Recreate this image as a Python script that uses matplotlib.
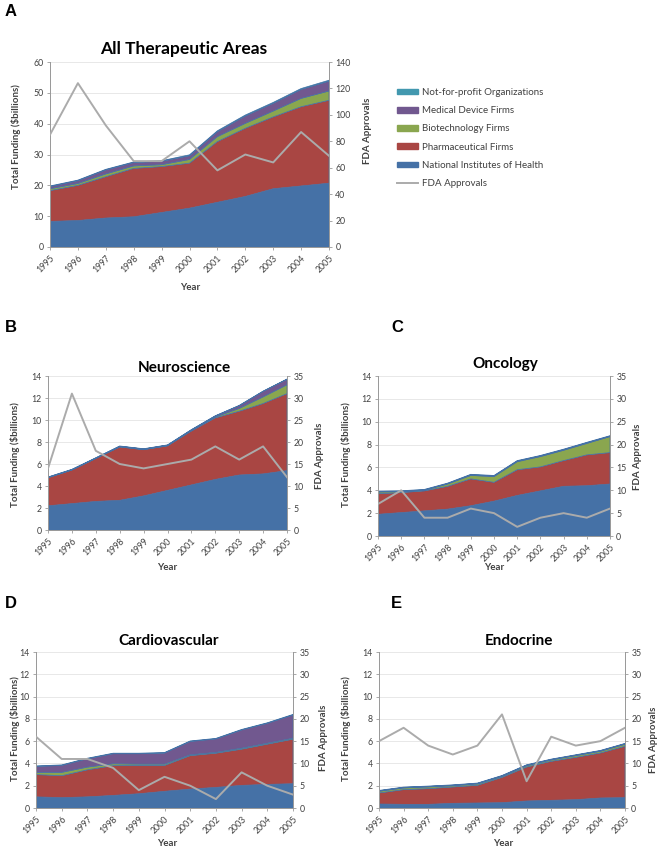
import matplotlib
matplotlib.use('Agg')
import matplotlib.pyplot as plt
from matplotlib.patches import Patch
from matplotlib.lines import Line2D

W, H = 661, 850

YEARS = list(range(1995, 2006))

SERIES = [
    'National Institutes of Health',
    'Pharmaceutical Firms',
    'Biotechnology Firms',
    'Medical Device Firms',
    'Not-for-profit Organizations',
]
COLORS = ['#4571A6', '#A94643', '#8AA64F', '#71588F', '#4298AF']
FDA_COLOR = '#ABABAB'

# funding per source, $billions (layer thickness, stacked NIH -> not-for-profit)
ALL_NIH = [8.3, 8.6, 9.4, 9.8, 11.2, 12.6, 14.5, 16.4, 18.9, 19.8, 20.7]
ALL_PHARMA = [10.0, 11.4, 13.4, 15.7, 14.9, 14.6, 19.7, 22.1, 23.3, 25.7, 26.9]
ALL_BIOTECH = [0.6, 0.6, 0.9, 0.8, 0.6, 1.2, 1.6, 1.6, 1.9, 2.7, 3.0]
ALL_DEVICE = [0.7, 0.9, 1.3, 1.1, 1.1, 1.2, 1.6, 2.4, 2.5, 2.9, 3.2]
ALL_NFP = [0.2, 0.2, 0.2, 0.2, 0.2, 0.3, 0.3, 0.3, 0.3, 0.3, 0.3]
ALL_FDA = [85, 124, 92, 65, 65, 80, 58, 70, 64, 87, 69]

NEURO_NIH = [2.2, 2.4, 2.6, 2.7, 3.1, 3.6, 4.1, 4.6, 5.0, 5.1, 5.4]
NEURO_PHARMA = [2.55, 3.05, 3.9, 4.85, 4.2, 4.05, 4.9, 5.6, 5.8, 6.4, 7.0]
NEURO_BIOTECH = [0.02, 0.02, 0.02, 0.03, 0.03, 0.03, 0.05, 0.08, 0.25, 0.6, 0.8]
NEURO_DEVICE = [0.02, 0.02, 0.02, 0.03, 0.03, 0.03, 0.05, 0.08, 0.25, 0.5, 0.5]
NEURO_NFP = [0.03, 0.03, 0.03, 0.03, 0.03, 0.03, 0.03, 0.03, 0.03, 0.03, 0.03]
NEURO_FDA = [14, 31, 18, 15, 14, 15, 16, 19, 16, 19, 12]

ONC_NIH = [1.9, 2.05, 2.2, 2.35, 2.65, 3.05, 3.55, 3.95, 4.35, 4.4, 4.55]
ONC_PHARMA = [1.8, 1.75, 1.75, 2.0, 2.35, 1.65, 2.25, 2.1, 2.25, 2.7, 2.75]
ONC_BIOTECH = [0.15, 0.08, 0.05, 0.2, 0.3, 0.5, 0.7, 0.9, 0.9, 1.0, 1.4]
ONC_DEVICE = [0.03, 0.03, 0.03, 0.03, 0.05, 0.05, 0.05, 0.05, 0.05, 0.05, 0.03]
ONC_NFP = [0.05, 0.05, 0.05, 0.05, 0.05, 0.05, 0.05, 0.05, 0.05, 0.05, 0.05]
ONC_FDA = [7, 10, 4, 4, 6, 5, 2, 4, 5, 4, 6]

CARDIO_NIH = [1.0, 0.93, 1.0, 1.13, 1.28, 1.5, 1.7, 1.85, 2.03, 2.12, 2.18]
CARDIO_PHARMA = [2.0, 1.97, 2.43, 2.67, 2.54, 2.32, 3.0, 3.07, 3.25, 3.61, 4.0]
CARDIO_BIOTECH = [0.2, 0.3, 0.24, 0.17, 0.12, 0.12, 0.08, 0.08, 0.09, 0.09, 0.09]
CARDIO_DEVICE = [0.53, 0.62, 0.75, 0.9, 0.93, 0.99, 1.19, 1.2, 1.63, 1.78, 2.08]
CARDIO_NFP = [0.05, 0.05, 0.05, 0.05, 0.05, 0.05, 0.05, 0.05, 0.05, 0.05, 0.05]
CARDIO_FDA = [16, 11, 11, 9, 4, 7, 5, 2, 8, 5, 3]

ENDO_NIH = [0.36, 0.33, 0.33, 0.42, 0.45, 0.48, 0.63, 0.69, 0.75, 0.9, 0.93]
ENDO_PHARMA = [0.99, 1.32, 1.41, 1.47, 1.59, 2.27, 3.05, 3.5, 3.8, 4.04, 4.61]
ENDO_BIOTECH = [0.15, 0.15, 0.15, 0.11, 0.12, 0.09, 0.12, 0.12, 0.15, 0.15, 0.18]
ENDO_DEVICE = [0.04, 0.04, 0.04, 0.04, 0.04, 0.04, 0.04, 0.04, 0.04, 0.04, 0.04]
ENDO_NFP = [0.04, 0.04, 0.04, 0.04, 0.04, 0.04, 0.04, 0.04, 0.04, 0.04, 0.04]
ENDO_FDA = [15, 18, 14, 12, 14, 21, 6, 16, 14, 15, 18]

plt.rcParams['font.family'] = ['Lato', 'DejaVu Sans']

TEXT = '#404040'
SPINE = '#9A9A9A'


def fx(x):
    return x / W


def fy(y):
    return 1 - y / H


# pixel positions of each panel's pieces
PANELS = [
    dict(letter='A', lpos=(11, 12), title='All Therapeutic Areas', tpos=(184, 49), tsize=12.5,
         layers=[ALL_NIH, ALL_PHARMA, ALL_BIOTECH, ALL_DEVICE, ALL_NFP], fda=ALL_FDA,
         box=(50, 62, 329, 247), ymax=60, ystep=10, y2max=140, y2step=20,
         ylpos=(16, 137), y2lpos=(367, 131), xlpos=(190, 288)),
    dict(letter='B', lpos=(11, 327), title='Neuroscience', tpos=(184, 368), tsize=11,
         layers=[NEURO_NIH, NEURO_PHARMA, NEURO_BIOTECH, NEURO_DEVICE, NEURO_NFP], fda=NEURO_FDA,
         box=(48, 376, 287, 530), ymax=14, ystep=2, y2max=35, y2step=5,
         ylpos=(15, 455), y2lpos=(319, 456), xlpos=(167, 567)),
    dict(letter='C', lpos=(397, 328), title='Oncology', tpos=(505, 364), tsize=11,
         layers=[ONC_NIH, ONC_PHARMA, ONC_BIOTECH, ONC_DEVICE, ONC_NFP], fda=ONC_FDA,
         box=(378, 376, 610, 536), ymax=14, ystep=2, y2max=35, y2step=5,
         ylpos=(346, 455), y2lpos=(638, 457), xlpos=(494, 568)),
    dict(letter='D', lpos=(11, 603), title='Cardiovascular', tpos=(169, 641), tsize=11,
         layers=[CARDIO_NIH, CARDIO_PHARMA, CARDIO_BIOTECH, CARDIO_DEVICE, CARDIO_NFP], fda=CARDIO_FDA,
         box=(36, 652, 293, 808), ymax=14, ystep=2, y2max=35, y2step=5,
         ylpos=(15, 729), y2lpos=(323, 738), xlpos=(167, 843)),
    dict(letter='E', lpos=(396, 604), title='Endocrine', tpos=(519, 641), tsize=11,
         layers=[ENDO_NIH, ENDO_PHARMA, ENDO_BIOTECH, ENDO_DEVICE, ENDO_NFP], fda=ENDO_FDA,
         box=(379, 652, 625, 808), ymax=14, ystep=2, y2max=35, y2step=5,
         ylpos=(346, 729), y2lpos=(653, 740), xlpos=(503, 843)),
]

fig = plt.figure(figsize=(W / 100, H / 100), dpi=100)

for p in PANELS:
    x0, y0, x1, y1 = p['box']
    ax = fig.add_axes([fx(x0), fy(y1), (x1 - x0) / W, (y1 - y0) / H])
    ax.stackplot(YEARS, *p['layers'], colors=COLORS,
                 edgecolor=COLORS, linewidth=0.5, zorder=2)
    ax.set_xlim(1995, 2005)
    ax.set_ylim(0, p['ymax'])
    ax.set_yticks(range(0, p['ymax'] + 1, p['ystep']))
    ax.set_xticks(YEARS)
    ax.set_xticklabels([str(y) for y in YEARS], rotation=45, ha='right',
                       rotation_mode='anchor')
    ax.yaxis.grid(True, color='#E4E4E4', lw=0.6)
    ax.set_axisbelow(True)
    ax.tick_params(axis='both', labelsize=6.3, colors=SPINE, labelcolor=TEXT,
                   length=2.5, width=0.6, pad=2)
    ax.spines['top'].set_visible(False)
    for s in ['left', 'bottom', 'right']:
        ax.spines[s].set_color(SPINE)
        ax.spines[s].set_linewidth(0.7)

    ax2 = ax.twinx()
    ax2.plot(YEARS, p['fda'], color=FDA_COLOR, lw=1.4, zorder=3)
    ax2.set_ylim(0, p['y2max'])
    ax2.set_yticks(range(0, p['y2max'] + 1, p['y2step']))
    ax2.tick_params(axis='y', labelsize=6.3, colors=SPINE, labelcolor=TEXT,
                    length=2.5, width=0.6, pad=2)
    ax2.spines['top'].set_visible(False)
    for s in ['left', 'bottom', 'right']:
        ax2.spines[s].set_color(SPINE)
        ax2.spines[s].set_linewidth(0.7)

    fig.text(fx(p['tpos'][0]), fy(p['tpos'][1]), p['title'], fontsize=p['tsize'],
             fontweight='bold', ha='center', va='center', color='black')
    fig.text(fx(p['lpos'][0]), fy(p['lpos'][1]), p['letter'], fontsize=12,
             fontweight='bold', ha='center', va='center',
             family='Liberation Sans')
    fig.text(fx(p['ylpos'][0]), fy(p['ylpos'][1]), 'Total Funding ($billions)',
             fontsize=7, fontweight='bold', rotation=90, ha='center',
             va='center', color=TEXT)
    fig.text(fx(p['y2lpos'][0]), fy(p['y2lpos'][1]), 'FDA Approvals',
             fontsize=7, fontweight='bold', rotation=90, ha='center',
             va='center', color=TEXT)
    fig.text(fx(p['xlpos'][0]), fy(p['xlpos'][1]), 'Year', fontsize=7,
             fontweight='bold', ha='center', va='center', color=TEXT)

handles = [Patch(color=COLORS[i]) for i in range(4, -1, -1)]
handles.append(Line2D([], [], color=FDA_COLOR, lw=1.4))
labels = [SERIES[i] for i in range(4, -1, -1)] + ['FDA Approvals']
fig.legend(handles, labels, loc='upper left',
           bbox_to_anchor=(fx(397), fy(88)), frameon=False, fontsize=7,
           labelspacing=0.95, handlelength=2.2, handleheight=0.5,
           handletextpad=0.35, labelcolor=TEXT, borderaxespad=0, borderpad=0)

fig.savefig('out.png', dpi=100)
